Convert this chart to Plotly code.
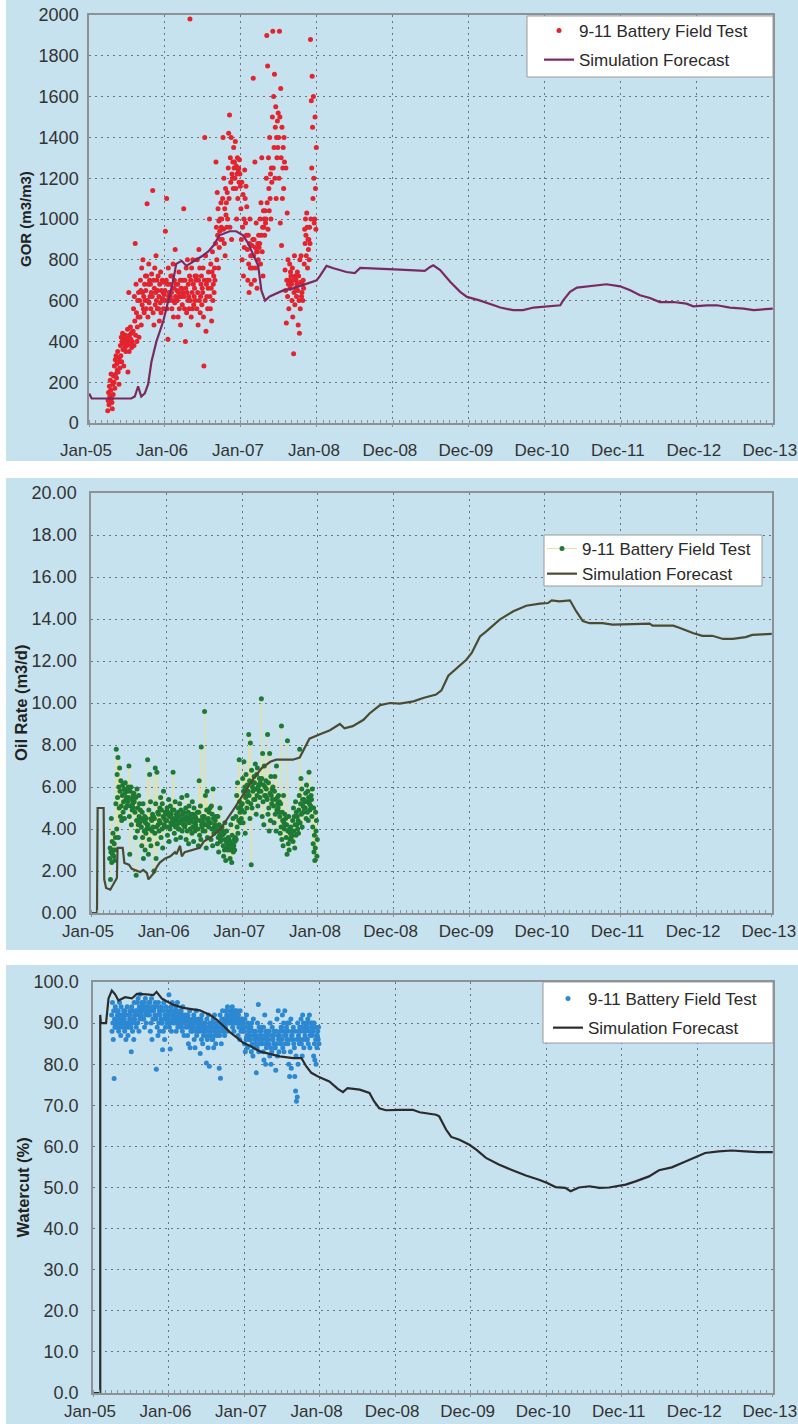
import plotly.graph_objects as go

W, H = 798, 1424
FONT = "Liberation Sans, Arial, sans-serif"

# ---------------------------------------------------------------- axis labels
TICK_DATES = ["2005-01-01", "2006-01-01", "2007-01-01", "2008-01-01", "2008-12-31",
              "2009-12-31", "2010-12-31", "2011-12-31", "2012-12-30", "2013-12-30"]
TICK_LABELS = ["Jan-05", "Jan-06", "Jan-07", "Jan-08", "Dec-08",
               "Dec-09", "Dec-10", "Dec-11", "Dec-12", "Dec-13"]

# ---------------------------------------------------------------- field test
# fifteen readings per month, one row per month, taken on these days
TEST_MONTHS = ["2005-04", "2005-05", "2005-06", "2005-07", "2005-08", "2005-09",
               "2005-10", "2005-11", "2005-12",
               "2006-01", "2006-02", "2006-03", "2006-04", "2006-05", "2006-06",
               "2006-07", "2006-08", "2006-09", "2006-10", "2006-11", "2006-12",
               "2007-01", "2007-02", "2007-03", "2007-04", "2007-05", "2007-06",
               "2007-07", "2007-08", "2007-09", "2007-10", "2007-11", "2007-12"]
SAMPLE_DAYS = [1, 3, 5, 7, 9, 11, 13, 15, 17, 19, 21, 23, 25, 27, 29]

GOR_TEST = [
    60, 110, 150, 90, 180, 130, 210, 160, 240, 120, 100, 70, 190, 140, 230,
    200, 280, 170, 310, 240, 330, 220, 290, 260, 350, 250, 300, 190, 320, 270,
    380, 330, 420, 300, 400, 440, 360, 410, 280, 390, 400, 370, 430, 350, 410,
    420, 380, 460, 250, 400, 640, 350, 430, 390, 470, 410, 440, 370, 400, 450,
    450, 560, 380, 620, 500, 880, 430, 680, 540, 400, 470, 600, 520, 640, 420,
    600, 520, 700, 650, 480, 760, 580, 640, 800, 560, 620, 540, 680, 600, 720,
    650, 560, 720, 1075, 600, 520, 680, 780, 590, 700, 620, 680, 560, 640, 730,
    620, 1140, 540, 700, 480, 660, 760, 580, 640, 820, 600, 700, 560, 650, 720,
    560, 620, 500, 680, 590, 740, 540, 650, 610, 700, 600, 640, 560, 690, 630,
    650, 940, 600, 700, 1100, 560, 680, 410, 760, 620, 640, 600, 680, 620, 720,
    640, 560, 720, 600, 780, 520, 660, 700, 590, 850, 620, 680, 600, 650, 700,
    600, 680, 520, 640, 740, 560, 620, 700, 480, 660, 620, 660, 580, 700, 640,
    1050, 620, 560, 700, 400, 660, 760, 540, 640, 800, 600, 680, 620, 560, 720,
    1980, 600, 700, 520, 760, 640, 560, 800, 680, 580, 620, 660, 720, 600, 700,
    720, 560, 800, 640, 480, 700, 850, 600, 760, 540, 620, 680, 720, 580, 660,
    640, 760, 520, 280, 700, 1400, 600, 820, 450, 680, 620, 700, 560, 660, 740,
    700, 1000, 620, 560, 780, 660, 500, 740, 840, 600, 680, 720, 640, 760, 700,
    880, 1280, 960, 800, 1130, 920, 1050, 760, 990, 860, 940, 1000, 900, 1080, 960,
    1000, 900, 1100, 1400, 950, 1200, 880, 1050, 820, 1150, 1020, 1080, 960, 1130, 1000,
    1250, 1420, 1100, 1510, 960, 1300, 1180, 1400, 900, 1220, 1200, 1280, 1150, 1350, 1250,
    1280, 1200, 1380, 1150, 1260, 1000, 1220, 1300, 1100, 1240, 1250, 1180, 1290, 1220, 1160,
    1050, 900, 1180, 800, 960, 1120, 720, 1000, 860, 1240, 1100, 980, 1160, 920, 1060,
    850, 700, 920, 780, 640, 880, 1000, 760, 820, 680, 820, 870, 760, 900, 800,
    1690, 820, 900, 700, 1280, 860, 760, 980, 840, 660, 840, 880, 800, 920, 860,
    880, 1000, 780, 1080, 920, 1300, 840, 960, 720, 1040, 960, 1000, 920, 1040, 980,
    1000, 1200, 1900, 1080, 1750, 950, 1300, 1150, 1040, 1400, 1100, 1220, 1000, 1250, 1180,
    1500, 1920, 1250, 1600, 1350, 1710, 1200, 1450, 1550, 1100, 1400, 1300, 1480, 1350, 1520,
    1400, 1200, 1920, 1500, 980, 1640, 1300, 870, 1450, 1100, 1250, 1350, 1150, 1400, 1280,
    750, 650, 1250, 490, 700, 1030, 620, 800, 680, 560, 700, 780, 660, 740, 720,
    680, 600, 760, 520, 700, 340, 640, 820, 580, 720, 660, 700, 620, 680, 740,
    650, 480, 720, 600, 440, 800, 560, 690, 820, 620, 640, 680, 600, 700, 660,
    780, 950, 880, 1000, 920, 820, 1030, 960, 760, 900, 850, 900, 800, 960, 880,
    1880, 1000, 1580, 1250, 1700, 1450, 1100, 1600, 1200, 980, 1000, 1500, 1150, 950, 1350,
]

OIL_TEST = [
    2.6, 3.1, 1.6, 2.9, 4.5, 2.4, 3.4, 2.8, 3.8, 3.0, 2.7, 3.3, 2.5, 3.0, 3.6,
    5.2, 7.8, 4.0, 6.6, 5.5, 7.4, 3.6, 6.0, 5.0, 6.9, 5.8, 4.6, 6.3, 5.1, 4.4,
    5.6, 6.1, 4.8, 5.3, 5.9, 4.5, 5.7, 6.2, 5.0, 5.4, 5.5, 5.1, 5.8, 5.3, 6.0,
    5.5, 7.0, 4.6, 2.8, 5.8, 5.1, 6.0, 4.2, 5.4, 4.9, 5.2, 5.6, 5.0, 5.7, 5.3,
    4.8, 3.6, 5.5, 1.8, 4.4, 5.9, 3.9, 5.0, 4.2, 5.6, 4.6, 5.2, 4.3, 4.9, 4.5,
    4.1, 3.2, 4.8, 3.6, 5.2, 2.6, 4.4, 3.9, 4.6, 3.0, 4.3, 3.8, 4.5, 4.0, 4.2,
    7.3, 4.2, 2.8, 4.9, 3.5, 6.6, 4.0, 5.3, 3.2, 4.5, 4.4, 3.9, 4.7, 4.1, 4.6,
    2.0, 4.5, 3.8, 6.9, 5.2, 2.6, 4.1, 6.7, 3.3, 4.8, 4.2, 4.7, 3.9, 4.4, 5.0,
    4.3, 5.5, 3.6, 4.9, 4.0, 5.2, 3.1, 4.6, 5.8, 4.2, 4.5, 4.1, 4.8, 4.4, 4.7,
    4.4, 5.0, 3.7, 4.8, 4.1, 5.4, 3.4, 4.6, 4.0, 5.1, 4.3, 4.7, 4.2, 4.5, 4.9,
    6.7, 4.3, 4.9, 3.8, 4.5, 5.3, 4.1, 3.5, 4.7, 4.4, 4.2, 4.6, 4.8, 4.0, 4.5,
    4.6, 4.0, 5.2, 4.3, 3.6, 4.9, 4.4, 5.5, 3.9, 4.7, 4.5, 4.2, 4.8, 4.4, 4.1,
    4.2, 5.0, 3.5, 4.6, 5.6, 3.9, 4.4, 4.8, 3.3, 5.1, 4.3, 4.5, 4.0, 4.7, 4.4,
    4.5, 3.8, 5.3, 4.1, 4.7, 3.4, 5.0, 4.3, 3.9, 4.6, 4.2, 4.5, 4.4, 4.0, 4.8,
    4.0, 3.2, 4.8, 6.3, 3.7, 4.4, 5.1, 3.5, 7.9, 4.2, 4.1, 4.6, 3.9, 4.3, 4.5,
    4.6, 9.6, 3.9, 5.6, 4.2, 3.1, 4.9, 5.8, 3.6, 4.4, 4.5, 4.1, 4.8, 4.3, 5.0,
    4.3, 3.5, 5.1, 4.0, 4.7, 3.2, 5.9, 4.5, 3.8, 4.1, 4.2, 4.4, 3.9, 4.6, 4.1,
    3.9, 3.3, 4.6, 3.6, 2.9, 4.2, 3.7, 5.0, 3.4, 4.0, 3.8, 3.5, 4.1, 3.7, 3.9,
    3.2, 2.7, 3.8, 3.0, 4.3, 3.5, 2.5, 3.4, 3.9, 3.1, 3.3, 3.0, 3.6, 3.2, 3.5,
    3.4, 2.6, 3.0, 4.2, 3.3, 2.4, 3.7, 3.1, 4.5, 2.9, 3.2, 3.5, 3.0, 3.4, 3.6,
    4.6, 3.5, 5.6, 4.1, 6.2, 3.8, 5.0, 4.4, 7.3, 5.3, 4.8, 4.3, 5.1, 4.5, 4.9,
    5.2, 6.4, 4.3, 5.8, 7.2, 4.8, 6.0, 3.8, 5.5, 6.6, 5.6, 5.0, 6.1, 5.3, 5.8,
    8.5, 5.6, 6.3, 4.5, 8.1, 5.2, 2.3, 6.8, 5.0, 6.0, 5.8, 6.2, 5.4, 6.5, 5.7,
    6.2, 5.4, 7.1, 5.9, 4.7, 6.6, 5.6, 6.9, 5.1, 6.0, 6.1, 5.8, 6.4, 5.5, 6.2,
    5.8, 10.2, 6.4, 4.6, 7.6, 5.3, 6.1, 4.2, 7.0, 5.6, 6.0, 5.6, 6.3, 5.9, 5.5,
    5.4, 8.5, 4.7, 6.2, 5.0, 3.9, 7.6, 5.7, 4.4, 6.5, 5.6, 5.2, 5.9, 5.4, 6.0,
    5.1, 4.3, 5.8, 6.5, 4.7, 5.4, 3.9, 7.0, 4.9, 5.5, 5.2, 5.0, 5.6, 4.8, 5.3,
    4.6, 3.8, 5.2, 4.1, 8.9, 3.5, 4.8, 4.4, 3.2, 5.6, 4.3, 4.0, 4.7, 4.2, 4.5,
    3.6, 4.2, 2.8, 8.2, 3.9, 3.3, 4.6, 3.0, 4.0, 3.5, 3.8, 4.1, 3.6, 3.9, 3.7,
    4.4, 3.4, 5.0, 3.9, 4.6, 3.1, 4.2, 5.3, 3.7, 4.8, 4.2, 4.6, 4.0, 4.4, 3.8,
    4.9, 5.6, 7.8, 4.3, 5.2, 6.4, 4.7, 5.9, 4.1, 5.4, 5.1, 4.8, 5.4, 5.0, 5.3,
    5.0, 5.7, 4.5, 6.1, 5.3, 4.8, 5.8, 4.4, 5.5, 6.7, 5.2, 4.9, 5.4, 5.1, 5.6,
    5.4, 4.6, 5.9, 4.1, 3.3, 5.0, 2.9, 3.7, 2.5, 3.1, 4.8, 3.9, 4.4, 2.7, 3.5,
]

WCUT_TEST = [
    92, 88, 95, 90, 86, 93, 76.5, 91, 89, 94, 91, 89, 93, 90, 92,
    90, 93, 88, 91, 95, 89, 92, 87, 94, 90, 91, 90, 92, 89, 93,
    91, 88, 93, 90, 86, 92, 89, 94, 90, 87, 90, 92, 89, 91, 93,
    92, 89, 83, 94, 90, 88, 93, 91, 86, 95, 91, 92, 90, 93, 89,
    93, 95, 90, 96, 92, 88, 94, 91, 97, 93, 94, 92, 95, 93, 91,
    94, 91, 95, 89, 93, 96, 92, 90, 94, 93, 93, 94, 92, 95, 93,
    92, 95, 88, 93, 90, 96, 86, 94, 91, 93, 93, 91, 94, 92, 95,
    91, 78.8, 94, 89, 92, 87, 95, 90, 93, 88, 92, 93, 91, 94, 90,
    90, 83.5, 93, 88, 95, 91, 86, 92, 89, 94, 91, 92, 90, 93, 92,
    91, 96.9, 89, 93, 83.7, 90, 94, 88, 92, 95, 91, 92, 90, 93, 91,
    92, 90, 94, 88, 93, 91, 95, 89, 92, 90, 91, 92, 90, 93, 91,
    91, 93, 89, 92, 88, 94, 90, 92, 87, 91, 90, 91, 92, 89, 91,
    90, 87, 92, 85, 91, 89, 93, 84, 90, 88, 89, 90, 88, 91, 89,
    89, 92, 86, 90, 84, 91, 88, 93, 87, 90, 89, 90, 88, 91, 89,
    90, 82.6, 88, 91, 86, 92, 89, 85, 90, 87, 88, 89, 87, 90, 88,
    88, 80.3, 91, 86, 89, 84, 92, 87, 79.5, 90, 88, 89, 87, 90, 86,
    89, 86, 91, 84, 88, 92, 87, 90, 85, 89, 88, 89, 87, 90, 88,
    90, 79, 87, 92, 76.6, 89, 85, 91, 88, 93, 89, 90, 88, 91, 87,
    91, 89, 93, 90, 92, 88, 94, 91, 90, 92, 91, 92, 90, 93, 91,
    92, 90, 94, 89, 93, 91, 88, 92, 90, 93, 91, 92, 90, 93, 91,
    90, 87, 92, 89, 91, 86, 93, 90, 88, 91, 90, 89, 91, 88, 90,
    88, 85, 91, 83, 89, 86, 92, 87, 84, 90, 87, 88, 86, 89, 87,
    86, 89, 83, 90, 85, 88, 82, 91, 87, 84, 87, 86, 88, 85, 89,
    77.9, 87, 84, 90, 86, 94.5, 83, 89, 85, 88, 87, 86, 88, 85, 89,
    86, 83, 89, 81, 87, 92, 85, 80, 88, 84, 86, 87, 85, 88, 86,
    85, 88, 82, 90, 84, 80, 87, 83, 89, 86, 86, 87, 85, 88, 84,
    84, 78.5, 88, 85, 91, 82, 87, 93, 86, 83, 87, 86, 88, 85, 89,
    89, 86, 92, 84, 88, 90, 83, 87, 93, 85, 88, 87, 89, 86, 90,
    85, 88, 80, 90, 77, 86, 83, 91, 79, 87, 87, 88, 86, 89, 85,
    84, 77, 88, 73.5, 82, 71, 86, 72, 90, 80, 87, 88, 85, 89, 86,
    88, 91, 85, 89, 82, 92, 86, 90, 84, 88, 88, 87, 89, 86, 90,
    89, 86, 91, 85, 90, 88, 92, 84, 87, 90, 88, 89, 87, 90, 88,
    88, 82, 90, 85, 81, 89, 86, 80, 87, 84, 87, 88, 86, 89, 85,
]

# ---------------------------------------------------------------- simulation forecasts
GOR_SIM_DATES = [
    "2005-01-02", "2005-01-14", "2005-07-23", "2005-08-09", "2005-08-25", "2005-09-09",
    "2005-09-26", "2005-10-12", "2005-10-28", "2005-11-21", "2005-12-24", "2006-01-08",
    "2006-02-10", "2006-02-24", "2006-03-22", "2006-04-14", "2006-06-02", "2006-07-01",
    "2006-07-27", "2006-08-22", "2006-09-20", "2006-11-08", "2006-12-09", "2007-01-11",
    "2007-02-05", "2007-02-27", "2007-03-25", "2007-04-09", "2007-04-27", "2007-05-19",
    "2007-07-23", "2007-09-09", "2007-11-28", "2007-12-31", "2008-01-15", "2008-02-16",
    "2008-03-17", "2008-05-22", "2008-07-01", "2008-07-27", "2009-02-02", "2009-04-23",
    "2009-06-02", "2009-06-28", "2009-07-13", "2009-08-15", "2009-10-02", "2009-11-19",
    "2009-12-22", "2010-02-20", "2010-04-13", "2010-05-31", "2010-08-01", "2010-09-17",
    "2010-11-07", "2010-12-25", "2011-01-26", "2011-03-15", "2011-03-29", "2011-05-01",
    "2011-06-03", "2011-07-20", "2011-10-23", "2011-12-28", "2012-02-14", "2012-04-01",
    "2012-05-19", "2012-07-05", "2012-09-09", "2012-11-10", "2012-12-13", "2013-02-17",
    "2013-04-06", "2013-06-07", "2013-08-12", "2013-09-29", "2013-11-15", "2013-12-30",
]
GOR_SIM = [
    144, 120, 120, 130, 180, 130,
    145, 190, 300, 400, 500, 560,
    700, 780, 795, 770, 800, 820,
    840, 870, 920, 940, 940, 920,
    880, 830, 770, 650, 600, 620,
    650, 660, 690, 700, 720, 770,
    760, 740, 735, 760, 752, 746,
    746, 765, 773, 750, 692, 643,
    618, 601, 582, 566, 553, 553,
    566, 570, 572, 577, 601, 643,
    664, 670, 680, 670, 651, 626,
    613, 593, 593, 585, 572, 577,
    577, 566, 561, 553, 556, 561,
]

OIL_SIM_DATES = [
    "2005-01-01", "2005-01-30", "2005-02-02", "2005-03-03", "2005-03-06", "2005-03-15",
    "2005-04-04", "2005-04-21", "2005-05-06", "2005-05-09", "2005-06-03", "2005-06-11",
    "2005-07-03", "2005-07-17", "2005-08-12", "2005-08-26", "2005-09-10", "2005-09-28",
    "2005-10-05", "2005-10-31", "2005-11-15", "2005-11-29", "2005-12-25", "2006-01-19",
    "2006-02-10", "2006-02-17", "2006-03-07", "2006-03-15", "2006-03-29", "2006-05-01",
    "2006-06-10", "2006-06-29", "2006-08-15", "2006-09-17", "2006-10-16", "2006-11-18",
    "2006-12-21", "2007-01-22", "2007-02-24", "2007-04-05", "2007-05-16", "2007-06-14",
    "2007-09-02", "2007-10-05", "2007-10-31", "2007-11-21", "2008-01-08", "2008-02-28",
    "2008-04-16", "2008-05-08", "2008-06-17", "2008-08-08", "2008-09-06", "2008-10-27",
    "2008-12-14", "2009-01-30", "2009-04-06", "2009-05-23", "2009-07-24", "2009-08-19",
    "2009-09-21", "2009-10-31", "2009-12-17", "2010-01-12", "2010-02-21", "2010-03-22",
    "2010-05-27", "2010-08-01", "2010-10-02", "2010-12-07", "2011-01-15", "2011-02-02",
    "2011-03-11", "2011-05-01", "2011-05-31", "2011-07-02", "2011-08-04", "2011-10-05",
    "2011-11-22", "2012-02-28", "2012-05-19", "2012-06-03", "2012-09-10", "2012-10-13",
    "2012-12-14", "2013-01-29", "2013-03-18", "2013-05-09", "2013-06-25", "2013-08-26",
    "2013-09-27", "2013-11-14", "2013-12-30",
]
OIL_SIM = [
    0.0, 0.0, 5.0, 5.0, 1.6, 1.19,
    1.11, 1.43, 1.67, 3.1, 3.1, 2.38,
    2.3, 2.1, 2.0, 1.95, 2.05, 1.9,
    1.6, 1.9, 2.2, 2.4, 2.6, 2.7,
    2.9, 2.8, 3.2, 2.7, 2.9, 3.0,
    3.1, 3.4, 3.7, 4.0, 4.4, 4.9,
    5.4, 5.9, 6.4, 6.9, 7.2, 7.3,
    7.3, 7.4, 7.9, 8.3, 8.5, 8.7,
    9.0, 8.8, 8.9, 9.2, 9.5, 9.9,
    10.0, 9.97, 10.08, 10.24, 10.4, 10.6,
    11.3, 11.67, 12.06, 12.38, 13.17, 13.4,
    13.97, 14.37, 14.63, 14.73, 14.76, 14.89,
    14.84, 14.89, 14.37, 13.9, 13.8, 13.8,
    13.73, 13.76, 13.78, 13.68, 13.68, 13.57,
    13.33, 13.2, 13.2, 13.05, 13.05, 13.14,
    13.24, 13.27, 13.29,
]

WCUT_SIM_DATES = [
    "2005-01-01", "2005-02-05", "2005-02-05", "2005-02-08", "2005-03-05", "2005-03-17",
    "2005-04-02", "2005-04-18", "2005-05-04", "2005-06-05", "2005-07-08", "2005-08-01",
    "2005-09-17", "2005-10-20", "2005-11-04", "2005-11-29", "2005-12-23", "2006-01-23",
    "2006-03-13", "2006-06-01", "2006-07-21", "2006-08-23", "2006-09-21", "2006-10-24",
    "2006-11-26", "2006-12-28", "2007-01-28", "2007-03-19", "2007-05-05", "2007-06-22",
    "2007-08-26", "2007-10-05", "2007-10-27", "2007-11-22", "2008-01-01", "2008-02-17",
    "2008-03-29", "2008-04-23", "2008-05-15", "2008-07-13", "2008-08-29", "2008-09-20",
    "2008-10-15", "2008-11-17", "2009-01-19", "2009-03-26", "2009-04-28", "2009-07-17",
    "2009-08-01", "2009-09-03", "2009-09-28", "2009-11-07", "2009-12-25", "2010-01-27",
    "2010-03-15", "2010-05-16", "2010-07-21", "2010-09-24", "2010-11-26", "2011-01-05",
    "2011-02-14", "2011-04-02", "2011-04-28", "2011-06-07", "2011-07-28", "2011-09-14",
    "2011-10-31", "2012-01-19", "2012-03-07", "2012-05-11", "2012-06-28", "2012-08-29",
    "2012-11-03", "2012-12-20", "2013-02-06", "2013-04-13", "2013-06-14", "2013-08-19",
    "2013-10-20", "2013-12-30",
]
WCUT_SIM = [
    0.0, 0.0, 92.0, 90.0, 90.0, 96.0,
    97.9, 97.0, 95.5, 96.3, 96.0, 97.1,
    97.0, 96.8, 97.6, 96.0, 95.3, 94.5,
    93.7, 93.1, 92.0, 90.8, 89.4, 87.8,
    86.5, 85.2, 84.5, 83.1, 82.5, 81.9,
    81.5, 81.5, 79.6, 77.9, 76.8, 75.8,
    74.0, 73.2, 74.2, 73.8, 73.0, 71.0,
    69.3, 68.8, 68.9, 68.9, 68.3, 67.7,
    67.3, 64.1, 62.3, 61.6, 60.4, 59.2,
    57.2, 55.6, 54.2, 52.9, 51.9, 51.1,
    50.1, 49.9, 49.1, 50.0, 50.3, 49.9,
    50.0, 50.7, 51.5, 52.7, 54.2, 54.9,
    56.3, 57.4, 58.4, 58.8, 59.0, 58.8,
    58.6, 58.6,
]

TEST_NAME = "9-11 Battery Field Test"
SIM_NAME = "Simulation Forecast"

# ---------------------------------------------------------------- styling
BG = "#c6e2ee"
GRID = "#6f7478"
FRAME = "#8c9296"
TEXT = "#333333"

test_dates = [f"{m}-{d:02d}" for m in TEST_MONTHS for d in SAMPLE_DAYS]
assert len(GOR_TEST) == len(OIL_TEST) == len(WCUT_TEST) == len(test_dates)


def px_x(p):
    return p / W


def px_y(p):
    return 1 - p / H


# plot rectangles (left, right, top, bottom) and surrounding panel bands (top, bottom)
PLOTS = [(89, 773, 15, 423), (91, 772, 493, 913), (93, 773, 982, 1393)]
BANDS = [(0, 461), (478, 950), (965, 1424)]
LEGEND_BOXES = [(527, 773, 16, 77), (544, 762, 535, 586), (543, 773, 982, 1043)]
# legend anchor (left, top) and extra spacing between its two entries
LEGEND_POS = [(539, 13, 4), (542, 531, 0), (548, 981, 4)]
YTITLES = [("GOR (m3/m3)", 25, 15), ("Oil Rate (m3/d)", 21, 16.5), ("Watercut (%)", 22, 16.5)]
XLABEL_GAP = [9, 0, 0]
YLABEL_GAP = [5, 9, 9]

fig = go.Figure()

series = [
    (GOR_TEST, GOR_SIM_DATES, GOR_SIM, "#e3232d", "#7a2a60", "markers"),
    (OIL_TEST, OIL_SIM_DATES, OIL_SIM, "#1d7a36", "#4c4b31", "lines+markers"),
    (WCUT_TEST, WCUT_SIM_DATES, WCUT_SIM, "#2c88d2", "#2b2b2b", "markers"),
]

for i, (test_vals, sim_x, sim_y, mcol, lcol, mode) in enumerate(series):
    sfx = "" if i == 0 else str(i + 1)
    leg = "legend" + sfx
    fig.add_trace(go.Scatter(
        x=test_dates, y=test_vals, mode=mode, name=TEST_NAME,
        marker=dict(color=mcol, size=5, line=dict(width=0)),
        line=dict(color="#e4e2a2", width=1),
        xaxis="x" + sfx, yaxis="y" + sfx, legend=leg, legendgroup=f"t{i}",
    ))
    fig.add_trace(go.Scatter(
        x=sim_x, y=sim_y, mode="lines", name=SIM_NAME,
        line=dict(color=lcol, width=2.2),
        xaxis="x" + sfx, yaxis="y" + sfx, legend=leg, legendgroup=f"s{i}",
    ))

layout = dict(
    template="none",
    width=W, height=H, autosize=False,
    margin=dict(l=0, r=0, t=0, b=0, pad=0),
    paper_bgcolor="white", plot_bgcolor=BG,
    font=dict(family=FONT, size=17, color=TEXT),
    showlegend=True,
    shapes=[], annotations=[],
)

yspecs = [
    dict(range=[0, 2000], dtick=200, tickformat="d"),
    dict(range=[0, 20], dtick=2, tickformat=".2f"),
    dict(range=[0, 100], dtick=10, tickformat=".1f"),
]

for i in range(3):
    sfx = "" if i == 0 else str(i + 1)
    l, r, t, b = PLOTS[i]
    layout["xaxis" + sfx] = dict(
        type="date", domain=[px_x(l), px_x(r)], anchor="y" + sfx,
        range=["2005-01-01", "2013-12-31"], automargin=False,
        tickmode="array", tickvals=TICK_DATES, ticktext=TICK_LABELS,
        ticks="outside", ticklen=2, tickcolor=FRAME,
        ticklabelstandoff=XLABEL_GAP[i], ticklabelshift=-3,
        ticklabeloverflow="allow",
        showgrid=True, gridcolor=GRID, gridwidth=1, griddash="2px,4px",
        showline=True, linecolor=FRAME, linewidth=1.5, mirror=True,
        zeroline=False, tickfont=dict(size=17, color=TEXT),
        minor=dict(tickmode="linear", tick0="2005-01-01", dtick="M1",
                   ticks="inside", ticklen=3, tickcolor=FRAME, showgrid=False),
        fixedrange=True,
    )
    layout["yaxis" + sfx] = dict(
        domain=[px_y(b), px_y(t)], anchor="x" + sfx, automargin=False,
        tickmode="linear", tick0=0, ticks="", ticklabelstandoff=YLABEL_GAP[i],
        ticklabeloverflow="allow",
        showgrid=True, gridcolor=GRID, gridwidth=1, griddash="2px,4px",
        showline=True, linecolor=FRAME, linewidth=1.5, mirror=True,
        zeroline=False, tickfont=dict(size=18, color=TEXT),
        fixedrange=True, **yspecs[i],
    )
    # panel band
    bt, bb = BANDS[i]
    layout["shapes"].append(dict(
        type="rect", xref="paper", yref="paper", layer="below",
        x0=px_x(6), x1=1, y0=px_y(bb), y1=px_y(bt),
        fillcolor=BG, line=dict(width=0),
    ))
    # legend box
    lx0, lx1, ly0, ly1 = LEGEND_BOXES[i]
    layout["shapes"].append(dict(
        type="rect", xref="paper", yref="paper", layer="above",
        x0=px_x(lx0), x1=px_x(lx1), y0=px_y(ly1), y1=px_y(ly0),
        fillcolor="white", line=dict(color="#9a9a9a", width=1),
    ))
    lgx, lgy, gap = LEGEND_POS[i]
    layout["legend" + sfx] = dict(
        x=px_x(lgx), y=px_y(lgy), xanchor="left", yanchor="top",
        bgcolor="rgba(0,0,0,0)", borderwidth=0, tracegroupgap=gap,
        font=dict(size=17, color="#2a2a2a", family=FONT),
        itemclick=False, itemdoubleclick=False,
    )
    # y-axis title
    title, cx, fs = YTITLES[i]
    layout["annotations"].append(dict(
        text=f"<b>{title}</b>", xref="paper", yref="paper",
        x=px_x(cx), y=px_y((t + b) / 2), xanchor="center", yanchor="middle",
        textangle=-90, showarrow=False,
        font=dict(size=fs, color="#222222", family=FONT),
    ))

fig.update_layout(**layout)
fig.write_html("out.html")
